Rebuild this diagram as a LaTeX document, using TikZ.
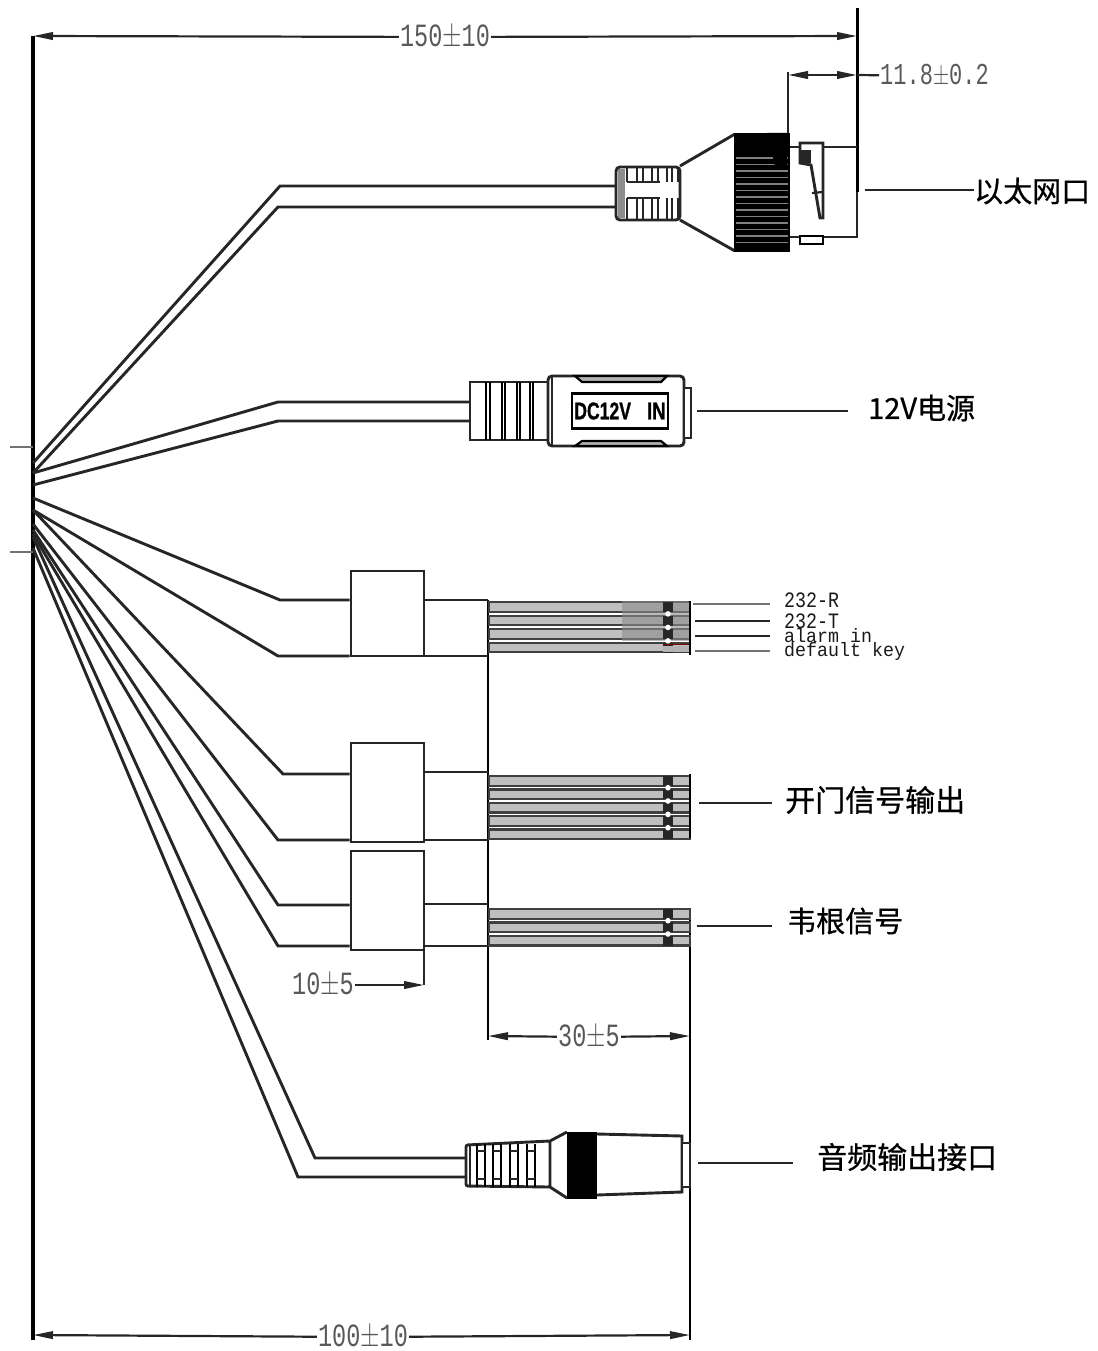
\documentclass[tikz,border=0pt]{standalone}
\usepackage{fontspec}
\usepackage{tikz}
\usetikzlibrary{arrows.meta, positioning, calc}
\setmonofont{Liberation Mono}
\newfontfamily\cjk[FakeBold=0.7]{Noto Sans CJK SC}
\newfontfamily\lsans[FakeBold=1]{Liberation Sans}

\begin{document}
\begin{tikzpicture}[
    x=1pt, y=-1pt,
    cable/.style={line width=2.9pt, black!85},
    thin line/.style={line width=2.2pt, black!85},
    leader/.style={line width=2.2pt, black!85},
    dimline/.style={line width=2.2pt, black!85, -{Stealth[inset=0pt,length=20pt,width=7.5pt]}},
    dimlabel/.style={font=\ttfamily\fontsize{23.5}{24}\selectfont, text=black!65, yscale=1.38, inner sep=1pt},
    wirelabel/.style={font=\ttfamily\fontsize{18.3}{18}\selectfont, text=black!90, yscale=1.2, inner sep=0pt, anchor=west},
    cjklabel/.style={font=\cjk\fontsize{29}{30}\selectfont, text=black, inner sep=0pt, anchor=west},
    sleeve/.style={draw, line width=2.9pt, black!85, fill=white, minimum width=73pt, inner sep=0pt},
    wire/.style={draw=black!75, fill=black!25, line width=2.2pt}
]
\useasboundingbox (0,0) rectangle (1097,1351);

% Maszlinien
\draw[line width=3.2pt] (33,36) -- (33,1340);
\draw[line width=2.5pt, black!55] (10,447) -- (33,447);
\draw[line width=2.5pt, black!55] (10,552) -- (33,552);
\draw[line width=3pt] (857,8) -- (857,192);
\draw[thin line] (857,192) -- (857,238);
\draw[thin line] (788,72) -- (788,133);
\draw[line width=2.5pt] (488,600) -- (488,1040);
\draw[line width=2.5pt] (690,908) -- (690,1340);
\draw[thin line] (424,950) -- (424,985);

\node[dimlabel] (d150) at (445,37) {150$\pm$10};
\draw[dimline] (d150) -- (33,36);
\draw[dimline] (d150) -- (857,36);
\node[dimlabel, anchor=west, font=\ttfamily\fontsize{22}{24}\selectfont] (d118) at (879,76) {11.8$\pm$0.2};
\draw[dimline, {Stealth[inset=0pt,length=20pt,width=7.5pt]}-{Stealth[inset=0pt,length=20pt,width=7.5pt]}] (788,75) -- (857,75);
\draw[leader] (857,75) -- (d118);
\node[dimlabel] (d10) at (323,985) {10$\pm$5};
\draw[dimline] (d10) -- (424,985);
\node[dimlabel] (d30) at (589,1037) {30$\pm$5};
\draw[dimline] (d30) -- (488,1036);
\draw[dimline] (d30) -- (690,1036);
\node[dimlabel] (d100) at (363,1337) {100$\pm$10};
\draw[dimline] (d100) -- (33,1335);
\draw[dimline] (d100) -- (690,1335);

% Netzwerkstecker
\draw[cable] (33,463) -- (280,186) -- (616,186);
\draw[cable] (33,473) -- (278,207) -- (616,207);
\draw[cable, fill=white, rounded corners=4pt] (616,167) rectangle (680,220);
\fill[black!45] (618,169) rectangle (625,218);
\foreach \bx in {627,637,643,652,658,667,672,678} {
    \draw[thin line] (\bx,168) -- (\bx,182);
    \draw[thin line] (\bx,198) -- (\bx,219);
}
\draw[thin line] (627,182) -- (660,182);
\draw[thin line] (627,198) -- (660,198);
\draw[cable] (680,166) -- (735,134);
\draw[cable] (680,220) -- (735,251);
\fill[black] (734,133) rectangle (790,252);
\foreach \ky in {158,164.5,...,245} {
    \draw[line width=1.2pt, black!50] (736,\ky) -- (788,\ky);
}
\fill[black] (767,133) -- (787,133) -- (787,170) -- (776,170) -- cycle;
\draw[cable] (790,147) -- (857,147);
\draw[cable] (790,237) -- (857,237);
\draw[line width=2.2pt, fill=white] (800,236) rectangle (823,244);
\draw[cable, fill=white] (800,143) -- (823,143) -- (823,218) -- (820,218) -- (811,165) -- (800,163) -- cycle;
\fill[black!85] (799,150) rectangle (811,163);
\draw[thin line] (812,193) -- (823,192);
\node[cjklabel] (eth) at (974,191) {以太网口};
\coordinate (ethend) at (865,190);
\draw[leader] (ethend) -- (eth.west |- ethend);

% Stromstecker
\draw[cable] (33,473) -- (278,402) -- (471,402);
\draw[cable] (33,485) -- (278,421) -- (471,421);
\draw[cable, fill=white] (470,382) rectangle (548,440);
\foreach \bx in {486,490,502,505,517,520,530,533} {
    \draw[line width=2.4pt] (\bx,382) -- (\bx,440);
}
\draw[cable, fill=white, rounded corners=4pt] (548,376) rectangle (684,446);
\draw[cable] (552,376) -- (552,446);
\draw[line width=2.2pt, fill=black!30] (575,376) -- (667,376) -- (661,382) -- (582,382) -- cycle;
\draw[line width=2.2pt, fill=black!30] (575,446) -- (667,446) -- (661,441) -- (582,441) -- cycle;
\draw[cable, fill=white] (684,388) rectangle (691,438);
\node[draw, line width=2.6pt, minimum width=96pt, minimum height=35pt, inner sep=0pt,
    font=\lsans\bfseries\fontsize{22}{22}\selectfont] (dc) at (620,411) {\scalebox{0.8}[1.1]{DC12V}\hspace{16pt}\scalebox{0.85}[1.1]{IN}};
\node[cjklabel] (pwr) at (868,408) {12V电源};
\coordinate (pwrend) at (697,411);
\draw[leader] (pwrend) -- (848,411);

% Kabel zu den Huelsen
\node[sleeve, minimum height=85pt] (box1) at (387.5,613.5) {};
\node[sleeve, minimum height=99pt] (box2) at (387.5,792.5) {};
\node[sleeve, minimum height=99pt] (box3) at (387.5,900.5) {};
\draw[cable] (33,498) -- (280,600) -- (box1.west |- 0,600);
\draw[cable] (33,510) -- (278,656) -- (box1.west |- 0,656);
\draw[cable] (33,510) -- (283,774) -- (box2.west |- 0,774);
\draw[cable] (33,524) -- (278,840) -- (box2.west |- 0,840);
\draw[cable] (33,530) -- (278,905) -- (box3.west |- 0,905);
\draw[cable] (33,534) -- (278,946) -- (box3.west |- 0,946);
\draw[cable] (box1.east |- 0,600) -- (488,600);
\draw[cable] (box1.east |- 0,656) -- (488,656);
\draw[cable] (box2.east |- 0,772) -- (488,772);
\draw[cable] (box2.east |- 0,840) -- (488,840);
\draw[cable] (box3.east |- 0,904) -- (488,904);
\draw[cable] (box3.east |- 0,946) -- (488,946);

% Adern
\foreach \wy in {607,620.5,634,647.5,781,794.3,807.6,821,834.3,914,927.3,940.6} {
    \draw[wire] (489,\wy-4.8) rectangle (690,\wy+4.8);
}
\fill[black!45, opacity=0.6] (622,601) rectangle (690,641);
\foreach \wy in {607,620.5,634,647.5,781,794.3,807.6,821,834.3,914,927.3,940.6} {
    \fill[black!85] (663,\wy-5) rectangle (673,\wy+5);
}
\foreach \wy in {620.5,634,647.5,794.3,807.6,821,834.3,927.3,940.6} {
    \fill[white] (668,\wy-6.6) circle (2.8pt);
}
\fill[black!30] (663,646) rectangle (689,652);
\draw[line width=1.4pt, red!50!black] (663,644.5) -- (690,644.5);
\draw[line width=2.6pt] (690,601) -- (690,655);
\draw[line width=2.6pt] (690,774) -- (690,838);

\node[wirelabel] (r232) at (784,600) {232-R};
\node[wirelabel] (t232) at (784,621) {232-T};
\node[wirelabel, yscale=0.88] (alarm) at (784,636) {alarm in};
\node[wirelabel, yscale=0.88] (dkey) at (784,651) {default key};
\draw[line width=2.2pt, black!55] (693,604) -- (770,604);
\draw[leader] (695,621) -- (770,621);
\draw[leader] (695,636) -- (770,636);
\draw[line width=2.2pt, black!55] (695,651) -- (770,651);

\node[cjklabel, font=\cjk\fontsize{30}{30}\selectfont] (door) at (785,800) {开门信号输出};
\draw[leader] (699,803) -- (772,803);
\node[cjklabel] (wieg) at (787,921) {韦根信号};
\draw[leader] (697,926) -- (772,926);

% Audiostecker
\draw[cable] (33,537) -- (315,1158) -- (466,1158);
\draw[cable] (33,548) -- (298,1177) -- (466,1177);
\draw[cable, fill=white, rounded corners=2pt] (466,1145) -- (550,1141) -- (550,1187) -- (466,1186) -- cycle;
\draw[thin line] (470,1145) -- (470,1186);
\foreach \bx in {477,493,510,527} {
    \draw[line width=2.6pt] (\bx,1144) -- (\bx,1187);
    \draw[line width=2.6pt] (\bx+8,1144) -- (\bx+8,1187);
    \draw[thin line] (\bx,1151) -- (\bx+8,1151);
    \draw[thin line] (\bx,1179) -- (\bx+8,1179);
}
\draw[cable] (550,1141) -- (567,1132);
\draw[cable] (550,1187) -- (567,1198);
\fill[black] (567,1132) rectangle (597,1199);
\draw[cable, fill=white] (597,1134) -- (682,1136) -- (682,1192) -- (597,1195);
\draw[cable, fill=white] (682,1143) rectangle (690,1187);
\node[cjklabel, font=\cjk\fontsize{30}{30}\selectfont] (aud) at (817,1157) {音频输出接口};
\draw[leader] (698,1163) -- (793,1163);

\end{tikzpicture}
\end{document}
